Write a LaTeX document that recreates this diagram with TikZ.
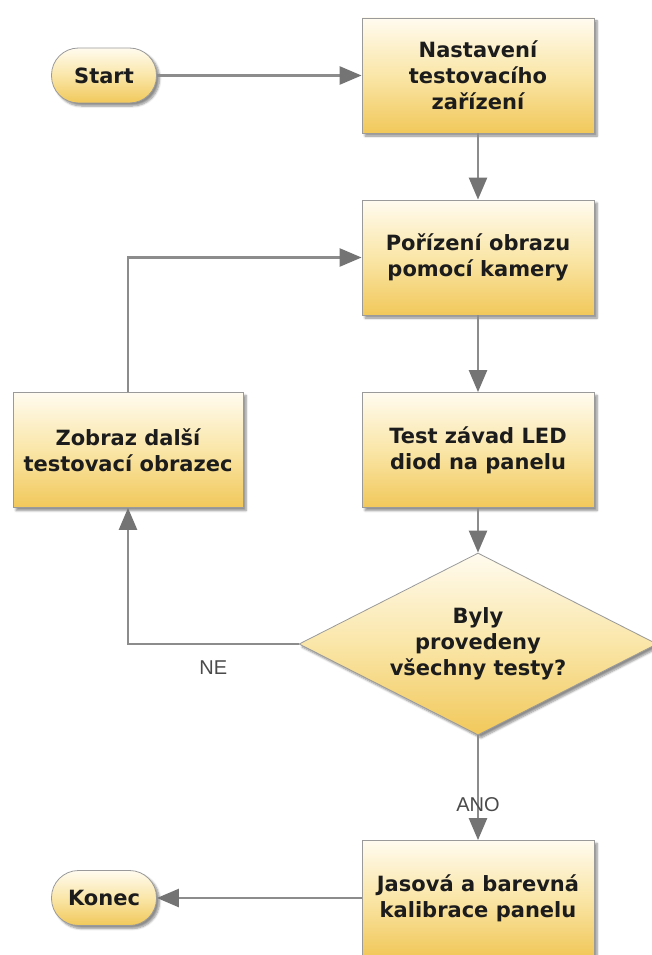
\documentclass[tikz,border=0pt]{standalone}
\usepackage{fontspec}
\setmainfont{DejaVu Sans}
\newfontfamily\lblfont{Liberation Sans}
\usetikzlibrary{arrows.meta,shapes.geometric,shadows.blur}

\definecolor{boxtop}{HTML}{FFFBEF}
\definecolor{boxmid}{HTML}{FAE6A8}
\definecolor{boxbot}{HTML}{F1C85A}
\definecolor{edgegray}{HTML}{9A9A9A}
\definecolor{linkgray}{HTML}{8C8C8C}
\definecolor{tipgray}{HTML}{747474}
\definecolor{inkdark}{HTML}{1C1C1C}
\definecolor{lblgray}{HTML}{4A4A4A}

\tikzset{
  shaded/.style={top color=boxtop, bottom color=boxbot, middle color=boxmid,
    draw=edgegray, line width=0.8pt,
    blur shadow={shadow xshift=3pt, shadow yshift=-3pt,
      shadow blur steps=6, shadow opacity=45}},
  boxtext/.style={align=center, text=inkdark,
    font=\bfseries\fontsize{21}{26}\selectfont},
  process/.style={shaded, boxtext, rectangle, minimum width=232pt,
    minimum height=115pt, inner sep=0pt},
  terminal/.style={shaded, boxtext, rectangle, rounded corners=27pt,
    minimum width=105pt, minimum height=55pt, inner sep=0pt},
  decision/.style={shaded, boxtext, diamond, aspect=2, minimum width=358pt,
    minimum height=182pt, inner sep=0pt},
  link/.style={draw=linkgray, line width=2.5pt,
    -{Triangle[length=22pt, width=18pt, fill=tipgray, color=tipgray]}},
  lbl/.style={inner sep=0pt, text=lblgray,
    font=\lblfont\fontsize{20}{24}\selectfont}
}

\begin{document}
\begin{tikzpicture}[x=1pt, y=-1pt]
  \useasboundingbox (0,0) rectangle (652,955);

  % flow steps
  \node[terminal] (start)   at (104,75.5) {Start};
  \node[process]  (setup)   at (478,75.5) {Nastavení\\testovacího\\zařízení};
  \node[process]  (capture) at (478,257.5) {Pořízení obrazu\\pomocí kamery};
  \node[process]  (ledtest) at (478,450) {Test závad LED\\diod na panelu};
  \node[process, minimum width=230pt] (nextpat) at (128,450)
        {Zobraz další\\testovací obrazec};
  \node[decision] (alldone) at (478,644) {Byly\\provedeny\\všechny testy?};
  \node[process]  (calib)   at (478,898) {Jasová a barevná\\kalibrace panelu};
  \node[terminal] (finish)  at (104,898) {Konec};

  % connectors
  \draw[link] (start) -- (setup);
  \draw[link] (setup) -- (capture);
  \draw[link] (capture) -- (ledtest);
  \draw[link] (ledtest) -- (alldone);
  \draw[link] (alldone.west) -| node[lbl, pos=0.25, below=15pt] {NE} (nextpat.south);
  \draw[link] (nextpat.north) |- (capture.west);
  \draw[link] (alldone) -- node[lbl, pos=0.66] {ANO} (calib);
  \draw[link] (calib) -- (finish);
\end{tikzpicture}
\end{document}
